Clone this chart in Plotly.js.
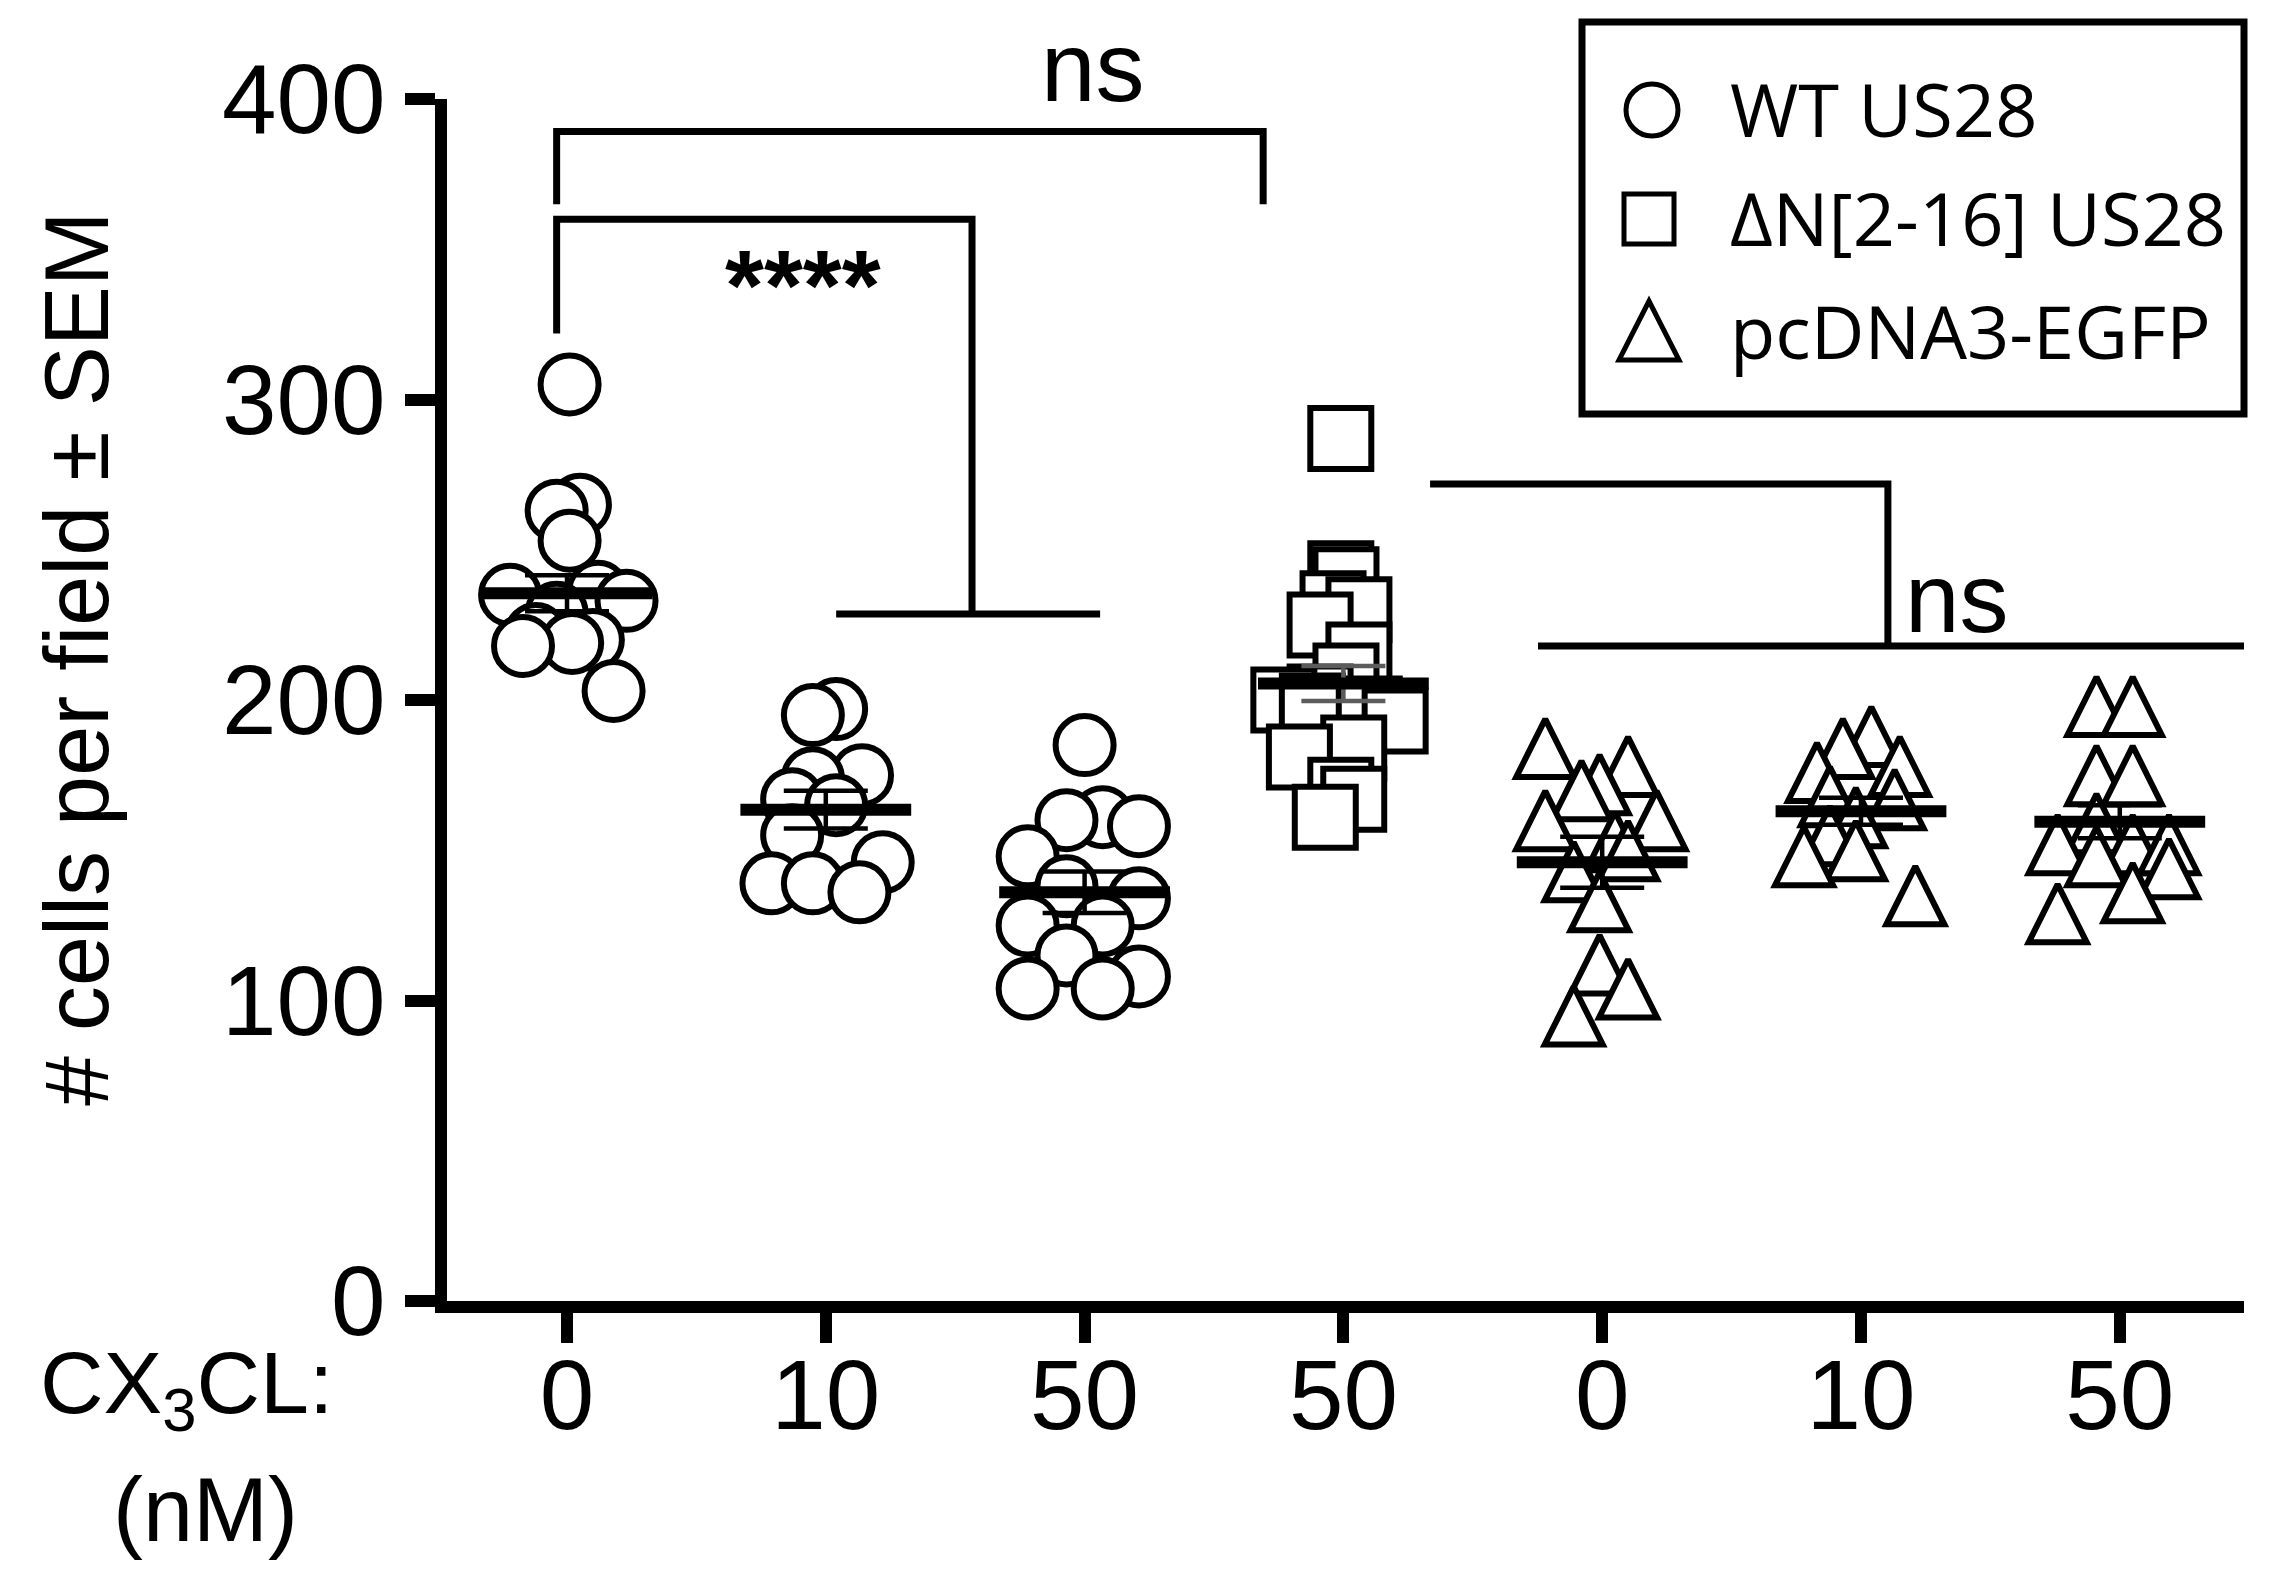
<!DOCTYPE html>
<html>
<head>
<meta charset="utf-8">
<script src="https://cdn.plot.ly/plotly-3.0.1.min.js"></script>
<style>
  html, body { margin: 0; padding: 0; background: #fff; }
  #chart { width: 2292px; height: 1584px; }
</style>
</head>
<body>
<div id="chart"></div>
<script>
// CX3CL concentration (nM) under each group
const doseLabels = ['0', '10', '50', '50', '0', '10', '50'];

// WT US28 (circles)
const wt0 = [305, 265, 263, 253, 236, 235, 233, 229, 222, 220, 219, 218, 203];
const wt0Dx = [0.01, 0.05, -0.04, 0.01, 0.12, -0.22, 0.23, -0.04, -0.12, 0.10, 0.02, -0.17, 0.18];
const wt10 = [197, 195, 175, 174, 167, 165, 155, 146, 139, 139, 136];
const wt10Dx = [0.04, -0.05, 0.14, -0.05, -0.13, 0.04, -0.13, 0.22, -0.21, -0.05, 0.13];
const wt50 = [185, 161, 160, 158, 148, 138, 134, 125, 125, 115, 108, 104, 104];
const wt50Dx = [0.0, 0.07, -0.07, 0.21, -0.22, -0.07, 0.21, -0.22, 0.07, -0.07, 0.21, -0.22, 0.07];

// dN[2-16] US28 (squares)
const dn50 = [287, 242, 240, 232, 230, 225, 215, 208, 201, 200, 198, 197, 193, 184, 181, 170, 167, 161];
const dn50Dx = [-0.01, -0.01, 0.01, -0.04, 0.06, -0.09, 0.06, 0.01, -0.09, -0.23, -0.12, 0.10, 0.20, 0.04, -0.17, -0.01, 0.04, -0.07];

// pcDNA3-EGFP (triangles)
const pc0 = [184, 178, 172, 170, 160, 160, 153, 150, 143, 133, 112, 104, 95];
const pc0Dx = [-0.22, 0.10, -0.01, -0.08, 0.21, -0.22, 0.05, 0.10, -0.11, -0.01, -0.01, 0.10, -0.11];
const pc10 = [188, 184, 178, 176, 168, 167, 161, 155, 150, 148, 135];
const pc10Dx = [0.04, -0.07, 0.15, -0.17, -0.12, 0.13, -0.02, -0.12, -0.02, -0.22, 0.21];
const pc50 = [198, 198, 175, 175, 159, 152, 152, 152, 148, 144, 136, 129];
const pc50Dx = [-0.09, 0.05, -0.09, 0.05, -0.09, -0.24, 0.05, 0.19, -0.09, 0.19, 0.05, -0.24];

// mean and SEM per group
const groupMeans = [235.5, 163.5, 136, 205.5, 146, 163, 159.5];
const groupSem = [6, 6.3, 6.9, 5.8, 8.5, 4.5, 5.5];

const legendNames = ['WT US28', '\u0394N[2-16] US28', 'pcDNA3-EGFP'];

// significance brackets: polylines as [group position, value] pairs
const bracketLines = [
    [[-0.04, 365], [-0.04, 389.2], [2.69, 389.2], [2.69, 365]],
    [[-0.04, 322], [-0.04, 360], [1.565, 360], [1.565, 228.6]],
    [[1.04, 228.6], [2.06, 228.6]],
    [[3.335, 271.9], [5.104, 271.9], [5.104, 218]],
    [[3.752, 218], [6.48, 218]]
];
const sigLabels = ['****', 'ns'];
const sigPos = [[0.91, 338], [5.37, 234]];

// page geometry (pixels)
const W = 2292, H = 1584;
const M = { l: 447, r: 48, t: 99, b: 283 };
function paperX(px) { return (px - M.l) / (W - M.l - M.r); }
function paperY(py) { return (H - M.b - py) / (H - M.t - M.b); }

function groupXs(group, dx) {
    return dx.map(d => group + d);
}

const font = 'Liberation Sans, Arial, sans-serif';
const black = '#000000';

const circles = {
    x: [].concat(groupXs(0, wt0Dx), groupXs(1, wt10Dx), groupXs(2, wt50Dx)),
    y: [].concat(wt0, wt10, wt50),
    type: 'scatter', mode: 'markers', yaxis: 'y2', cliponaxis: false,
    marker: { symbol: 'circle', size: 58, color: 'white', line: { color: black, width: 6 } }
};

const squares = {
    x: groupXs(3, dn50Dx),
    y: dn50,
    type: 'scatter', mode: 'markers', yaxis: 'y2', cliponaxis: false,
    marker: { symbol: 'square', size: 61, color: 'white', line: { color: black, width: 6 } }
};

// arrow-up has its tip on the point, so these sit on a y axis shifted by half a marker
const triangles = {
    x: [].concat(groupXs(4, pc0Dx), groupXs(5, pc10Dx), groupXs(6, pc50Dx)),
    y: [].concat(pc0, pc10, pc50),
    type: 'scatter', mode: 'markers', yaxis: 'y', cliponaxis: false,
    marker: { symbol: 'arrow-up', size: 58, color: 'white', line: { color: black, width: 6 } }
};

function meanTrace(groups, errColor) {
    return {
        x: groups,
        y: groups.map(g => groupMeans[g]),
        type: 'scatter', mode: 'markers', yaxis: 'y2', cliponaxis: false,
        // line-ew is drawn 1.4x its size
        marker: { symbol: 'line-ew', size: 122, color: black, line: { color: black, width: 12 } },
        error_y: {
            type: 'data', array: groups.map(g => groupSem[g]), visible: true,
            color: errColor, thickness: 4.5, width: 42
        }
    };
}

const data = [
    triangles, circles, squares,
    meanTrace([0, 1, 2], black),
    meanTrace([3], '#5c5c5c'),
    meanTrace([4, 5, 6], black)
];

const shapes = [];
bracketLines.forEach(function (pts) {
    let path = pts.map((p, i) => (i === 0 ? 'M' : 'L') + p[0] + ',' + p[1]).join(' ');
    shapes.push({
        type: 'path', xref: 'x', yref: 'y2', path: path,
        line: { color: black, width: 7 }
    });
});

// legend box and symbols
shapes.push({
    type: 'rect', xref: 'paper', yref: 'paper',
    x0: paperX(1582), x1: paperX(2244), y0: paperY(414), y1: paperY(22),
    line: { color: black, width: 7 }, fillcolor: 'rgba(0,0,0,0)'
});
const legendRowsY = [108, 217, 330];
shapes.push({
    type: 'circle', xref: 'paper', yref: 'paper', xsizemode: 'pixel', ysizemode: 'pixel',
    xanchor: paperX(1652), yanchor: paperY(110),
    x0: -26, x1: 26, y0: -26, y1: 26, line: { color: black, width: 5 }
});
shapes.push({
    type: 'rect', xref: 'paper', yref: 'paper', xsizemode: 'pixel', ysizemode: 'pixel',
    xanchor: paperX(1649), yanchor: paperY(219),
    x0: -25, x1: 25, y0: -25, y1: 25, line: { color: black, width: 5 }
});
shapes.push({
    type: 'path', xref: 'paper', yref: 'paper', xsizemode: 'pixel', ysizemode: 'pixel',
    xanchor: paperX(1649), yanchor: paperY(332),
    path: 'M-30,-28 L30,-28 L0,31 Z', line: { color: black, width: 5 }
});

const annotations = [];
legendNames.forEach(function (name, i) {
    annotations.push({
        text: name, xref: 'paper', yref: 'paper', x: paperX(1728), y: paperY(legendRowsY[i]),
        xanchor: 'left', yanchor: 'middle', showarrow: false,
        font: { family: 'Open Sans, sans-serif', size: 74, color: black }
    });
});
sigLabels.forEach(function (label, i) {
    annotations.push({
        text: label, xref: 'x', yref: 'y2', x: sigPos[i][0], y: sigPos[i][1],
        xanchor: 'center', yanchor: 'middle', showarrow: false,
        font: { family: font, size: label === 'ns' ? 98 : 100, color: black, weight: label === 'ns' ? 'normal' : 'bold' }
    });
});
// top "ns" sits above the axis range, so it goes in paper units
annotations.push({
    text: 'ns', xref: 'paper', yref: 'paper', x: paperX(1093), y: paperY(67),
    xanchor: 'center', yanchor: 'middle', showarrow: false,
    font: { family: font, size: 98, color: black }
});
annotations.push({
    text: '# cells per field \u00b1 SEM', textangle: -90,
    xref: 'paper', yref: 'paper', x: paperX(77), y: paperY(659),
    xanchor: 'center', yanchor: 'middle', showarrow: false,
    font: { family: font, size: 90, color: black }
});
annotations.push({
    text: 'CX<sub>3</sub>CL:', xref: 'paper', yref: 'paper', x: paperX(186), y: paperY(1388),
    xanchor: 'center', yanchor: 'middle', showarrow: false,
    font: { family: font, size: 88, color: black }
});
annotations.push({
    text: '(nM)', xref: 'paper', yref: 'paper', x: paperX(205), y: paperY(1510),
    xanchor: 'center', yanchor: 'middle', showarrow: false,
    font: { family: font, size: 90, color: black }
});

const axisCommon = {
    ticks: 'outside', ticklen: 30, tickwidth: 12, tickcolor: black,
    showline: true, linewidth: 12, linecolor: black,
    showgrid: false, zeroline: false, fixedrange: true,
    tickfont: { family: font, size: 98, color: black }
};

const layout = {
    width: W, height: H,
    margin: M,
    paper_bgcolor: 'white', plot_bgcolor: 'white',
    showlegend: false, hovermode: false,
    xaxis: Object.assign({}, axisCommon, {
        range: [-0.4637, 6.48], tickmode: 'array',
        tickvals: doseLabels.map((d, i) => i), ticktext: doseLabels,
        ticklabelstandoff: -32
    }),
    yaxis: { range: [-9.65, 390.35], visible: false, fixedrange: true },
    yaxis2: Object.assign({}, axisCommon, {
        overlaying: 'y', side: 'left', anchor: 'x',
        range: [0, 400], tickmode: 'array', tickvals: [0, 100, 200, 300, 400]
    }),
    shapes: shapes,
    annotations: annotations
};

Plotly.newPlot('chart', data, layout, { displayModeBar: false, staticPlot: true });
</script>
</body>
</html>
